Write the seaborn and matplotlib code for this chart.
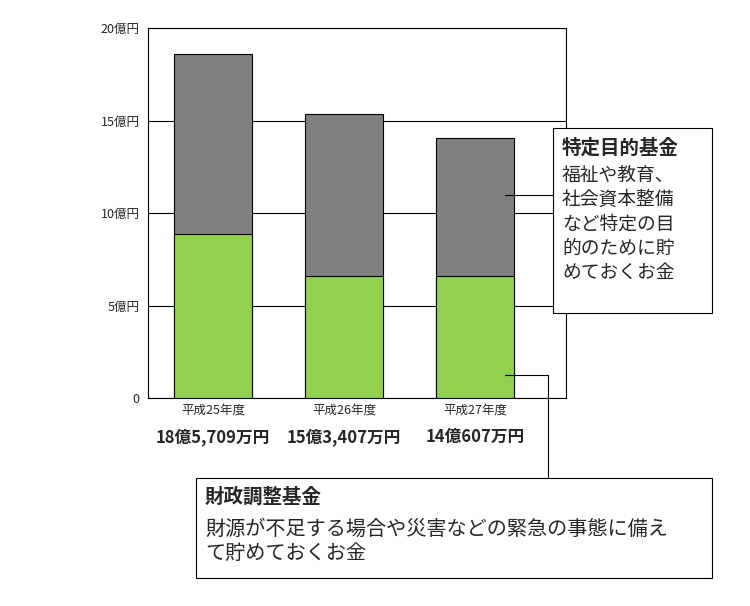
import matplotlib.pyplot as plt
import seaborn as sns
import pandas as pd
from matplotlib.patches import Rectangle
from matplotlib.lines import Line2D

years = ["平成25年度", "平成26年度", "平成27年度"]
totals_text = ["18億5,709万円", "15億3,407万円", "14億607万円"]
chosei = [8.85, 6.62, 6.58]      # 財政調整基金 (億円)
total = [18.57, 15.34, 14.06]    # 合計 (億円)
yticks = [0, 5, 10, 15, 20]
ylabels = ["0", "5億円", "10億円", "15億円", "20億円"]

sns.set_style("white")
plt.rcParams['font.family'] = ['Noto Sans CJK JP', 'DejaVu Sans']

W, H = 750, 606
fig = plt.figure(figsize=(7.5, 6.06), dpi=100)
ax = fig.add_axes([148 / W, 1 - 398 / H, (566 - 148) / W, (398 - 28) / H])

df = pd.DataFrame({"year": years, "total": total, "chosei": chosei})
sns.barplot(data=df, x="year", y="total", color="#808080", width=0.59,
            edgecolor="black", linewidth=0.8, saturation=1, ax=ax, zorder=3)
sns.barplot(data=df, x="year", y="chosei", color="#92D050", width=0.59,
            edgecolor="black", linewidth=0.8, saturation=1, ax=ax, zorder=4)

ax.set_ylim(0, 20)
ax.set_xlim(-0.496, 2.695)
ax.set_yticks(yticks)
ax.set_yticklabels(ylabels, fontsize=9)
ax.yaxis.grid(True, color="black", linewidth=0.8, zorder=0)
ax.set_xlabel("")
ax.set_ylabel("")
ax.set_xticks(range(3))
ax.set_xticklabels(years, fontsize=9)
ax.tick_params(axis="x", length=0, pad=4)
ax.tick_params(axis="y", length=0, pad=6)
for s in ax.spines.values():
    s.set_color("black")
    s.set_linewidth(0.8)
for i, t in enumerate(totals_text):
    ax.text(i, -2.1, t, ha="center", va="center", fontsize=12, fontweight="bold")


def px(x, y):
    return x / W, 1 - y / H


# connector lines
fig.add_artist(Line2D([505 / W, 553 / W], [1 - 195 / H] * 2, color="black", lw=0.8))
fig.add_artist(Line2D([505 / W, 548 / W], [1 - 375 / H] * 2, color="black", lw=0.8))
fig.add_artist(Line2D([548 / W] * 2, [1 - 375 / H, 1 - 478 / H], color="black", lw=0.8))

# box 1
fig.add_artist(Rectangle(px(553, 313), 159 / W, 185 / H, transform=fig.transFigure,
                         facecolor="white", edgecolor="black", lw=0.8))
fig.text(*px(562, 148), "特定目的基金", fontsize=14, fontweight="bold", va="center")
fig.text(*px(562, 224), "福祉や教育、\n社会資本整備\nなど特定の目\n的のために貯\nめておくお金",
         fontsize=13.5, va="center", linespacing=1.2)

# box 2
fig.add_artist(Rectangle(px(196, 578), 516 / W, 100 / H, transform=fig.transFigure,
                         facecolor="white", edgecolor="black", lw=0.8))
fig.text(*px(205, 497), "財政調整基金", fontsize=14, fontweight="bold", va="center")
fig.text(*px(205, 541), "財源が不足する場合や災害などの緊急の事態に備え\nて貯めておくお金",
         fontsize=14.5, va="center", linespacing=1.2)

fig.savefig("out.png", dpi=100)
